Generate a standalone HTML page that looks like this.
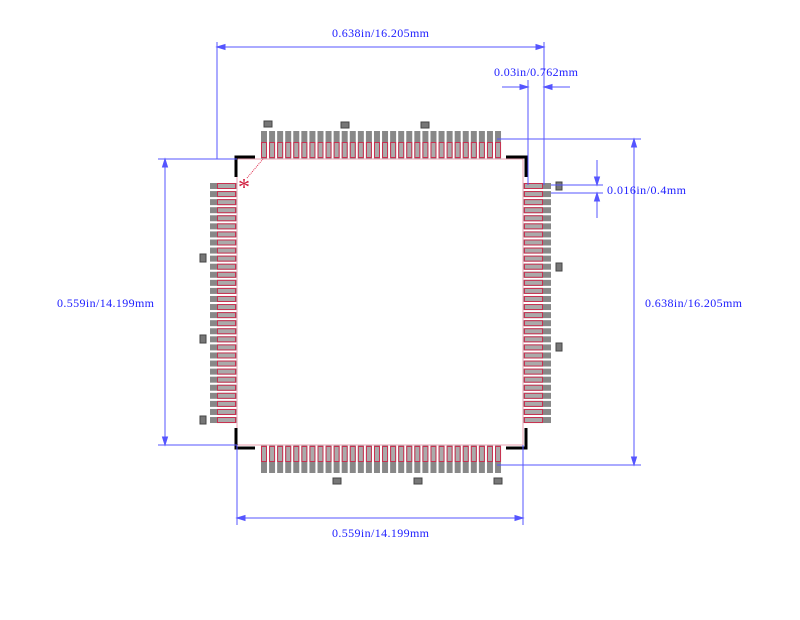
<!DOCTYPE html>
<html><head><meta charset="utf-8"><style>
html,body{margin:0;padding:0;background:#fff;width:800px;height:620px;overflow:hidden}
svg text{font-family:"Liberation Serif","Noto Serif CJK SC",serif;font-size:12px;fill:#2020ff}
</style></head><body>
<svg id="s" width="800" height="620" xmlns="http://www.w3.org/2000/svg">
<g id="pads"></g>
<rect x="237" y="159" width="286" height="286" fill="none" stroke="#e8a0b0" stroke-width="1"/>
<g stroke="#000" stroke-width="3" fill="none">
<path d="M236 177 V157 H255"/><path d="M506 157 H526 V177"/>
<path d="M236 428 V448 H255"/><path d="M506 448 H526 V428"/>
</g>
<line x1="247" y1="178" x2="263" y2="159" stroke="#e03050" stroke-dasharray="1,1"/>
<text x="238" y="195" style="fill:#d02040;font-size:24px">*</text>
<g stroke="#5555ff" stroke-width="1" fill="#5555ff">
<line x1="217" y1="42" x2="217" y2="159"/><line x1="544" y1="42" x2="544" y2="185"/>
<line x1="217" y1="47" x2="544" y2="47"/>
<path d="M217 47 l8 -2.5 v5z M544 47 l-8 -2.5 v5z"/>
<line x1="528" y1="80" x2="528" y2="185"/>
<line x1="502" y1="87" x2="528" y2="87"/><line x1="544" y1="87" x2="570" y2="87"/>
<path d="M528 87 l-8 -2.5 v5z M544 87 l8 -2.5 v5z"/>
<line x1="551" y1="185" x2="603" y2="185"/><line x1="551" y1="193" x2="603" y2="193"/>
<line x1="597" y1="160" x2="597" y2="185"/><line x1="597" y1="193" x2="597" y2="218"/>
<path d="M597 185 l-2.5 -8 h5z M597 193 l-2.5 8 h5z"/>
<line x1="497" y1="139" x2="641" y2="139"/><line x1="497" y1="465" x2="641" y2="465"/>
<line x1="634" y1="139" x2="634" y2="465"/>
<path d="M634 139 l-2.5 8 h5z M634 465 l-2.5 -8 h5z"/>
<line x1="158" y1="159" x2="237" y2="159"/><line x1="158" y1="445" x2="237" y2="445"/>
<line x1="165" y1="159" x2="165" y2="445"/>
<path d="M165 159 l-2.5 8 h5z M165 445 l-2.5 -8 h5z"/>
<line x1="237" y1="445" x2="237" y2="525"/><line x1="523" y1="445" x2="523" y2="525"/>
<line x1="237" y1="518" x2="523" y2="518"/>
<path d="M237 518 l8 -2.5 v5z M523 518 l-8 -2.5 v5z"/>
</g>
<text x="332" y="37" textLength="97">0.638in/16.205mm</text>
<text x="494" y="76" textLength="84">0.03in/0.762mm</text>
<text x="607" y="194" textLength="79">0.016in/0.4mm</text>
<text x="645" y="307" textLength="97">0.638in/16.205mm</text>
<text x="57" y="307" textLength="97">0.559in/14.199mm</text>
<text x="332" y="537" textLength="97">0.559in/14.199mm</text>
</svg>
<script>
var g=document.getElementById('pads'),h='',p=8.07;
function r(x,y,w,hh,f,s){h+='<rect x="'+x+'" y="'+y+'" width="'+w+'" height="'+hh+'" fill="'+f+'"'+(s?' stroke="'+s+'" stroke-width="1"':'')+'/>';}
for(var i=0;i<30;i++){
 var x=261+p*i, y=183+p*i;
 r(x,131,6,28,'#888');r(x+0.5,142.5,5,15,'#aaa','#c83050');
 r(x,445,6,28,'#888');r(x+0.5,446.5,5,15,'#aaa','#c83050');
 r(210,y,27,6,'#888');r(217.5,y+0.5,18,5,'#aaa','#c83050');
 r(523,y,28,6,'#888');r(524.5,y+0.5,18,5,'#aaa','#c83050');
}
[[264,121],[341,122],[421,122],[333,478],[414,478],[494,478]].forEach(function(a){r(a[0],a[1],8,6,'#777','#444');});
[[200,254],[200,335],[200,416],[556,182],[556,263],[556,343]].forEach(function(a){r(a[0],a[1],6,8,'#777','#444');});
g.innerHTML=h;
</script>
</body></html>
